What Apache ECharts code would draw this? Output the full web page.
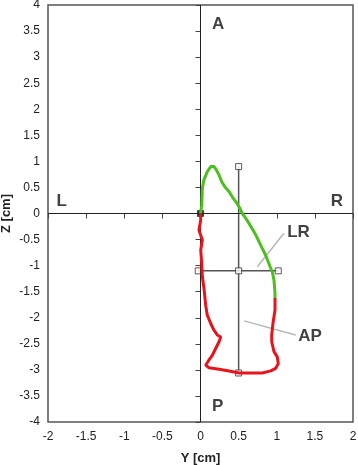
<!DOCTYPE html>
<html>
<head>
<meta charset="utf-8">
<script src="https://cdn.jsdelivr.net/npm/echarts@6/dist/echarts.min.js"></script>
<style>
  html, body { margin: 0; padding: 0; background: #fff; }
  #chart { width: 358px; height: 465px; }
</style>
</head>
<body>
<div id="chart"></div>
<script>
// trajectory, rising part (green) then the rest (red), [Y, Z] in cm
const greenPath = [
  [0, 0], [0.016, 0.16], [0.024, 0.48], [0.046, 0.65], [0.089, 0.80], [0.134, 0.90],
  [0.177, 0.90], [0.207, 0.84], [0.243, 0.74], [0.278, 0.61], [0.321, 0.51], [0.374, 0.42],
  [0.417, 0.32], [0.462, 0.23], [0.505, 0.13], [0.548, 0.00], [0.593, -0.09], [0.636, -0.19],
  [0.702, -0.35], [0.724, -0.41], [0.767, -0.54], [0.810, -0.67], [0.855, -0.80], [0.889, -0.93],
  [0.921, -1.05], [0.942, -1.12], [0.964, -1.28], [0.977, -1.53], [0.977, -1.62]
];
const redPath = [
  [0.977, -1.62], [0.977, -1.85], [0.951, -2.10], [0.934, -2.33], [0.934, -2.46], [0.964, -2.65],
  [1.007, -2.75], [1.020, -2.88], [0.986, -2.97], [0.921, -3.02], [0.810, -3.06], [0.679, -3.06],
  [0.505, -3.06], [0.374, -3.02], [0.243, -2.99], [0.111, -2.96], [0.068, -2.91], [0.111, -2.81],
  [0.155, -2.72], [0.199, -2.59], [0.243, -2.46], [0.265, -2.37], [0.220, -2.33], [0.177, -2.24],
  [0.134, -2.11], [0.089, -1.95], [0.068, -1.76], [0.046, -1.44], [0.024, -1.21], [0.016, -0.96],
  [0.003, -0.70], [0.024, -0.51], [-0.02, -0.32], [0.003, -0.12], [0, 0]
];
// AP and LR extent lines
const apLine = [[0.5, 0.9], [0.5, -1.1], [0.5, -3.06]];
const lrLine = [[-0.03, -1.1], [0.5, -1.1], [1.02, -1.1]];
// leader lines for the LR / AP labels
const lrLeader = [[0.745, -1.02], [1.095, -0.38]];
const apLeader = [[0.570, -2.06], [1.249, -2.33]];
// direction and measure labels
const labels = [
  { name: 'A', value: [0.23, 3.63] }, { name: 'P', value: [0.225, -3.69] },
  { name: 'L', value: [-1.82, 0.24] }, { name: 'R', value: [1.79, 0.24] },
  { name: 'LR', value: [1.285, -0.365] }, { name: 'AP', value: [1.436, -2.365] }
];

const FONT = 'Liberation Sans';
const chart = echarts.init(document.getElementById('chart'));

const lineS = (data, color, width, z) => ({
  type: 'line', data, symbol: 'none', z, silent: true, animation: false,
  lineStyle: { color, width }
});
const squares = (data, fill) => ({
  type: 'scatter', data, symbol: 'rect', symbolSize: 6, z: 4, silent: true,
  itemStyle: { color: fill, borderColor: '#333', borderWidth: 1 }
});

chart.setOption({
  animation: false,
  grid: {
    left: 48, right: 5, top: 5, bottom: 43, containLabel: false, outerBoundsMode: 'none',
    show: true, borderColor: '#555', borderWidth: 1.5
  },
  xAxis: {
    type: 'value', min: -2, max: 2, interval: 0.5,
    name: 'Y [cm]', nameLocation: 'middle', nameGap: 30, nameMoveOverlap: false,
    nameTextStyle: { fontFamily: FONT, fontSize: 13, fontWeight: 'bold', color: '#222' },
    axisLine: { show: false }, splitLine: { show: false },
    axisTick: { show: true, length: 5, lineStyle: { color: '#444' } },
    axisLabel: { margin: 9, fontFamily: FONT, fontSize: 12, color: '#222' }
  },
  yAxis: {
    type: 'value', min: -4, max: 4, interval: 0.5,
    name: 'Z [cm]', nameLocation: 'middle', nameGap: 35, nameMoveOverlap: false,
    nameTextStyle: { fontFamily: FONT, fontSize: 13, fontWeight: 'bold', color: '#222' },
    axisLine: { show: false }, splitLine: { show: false },
    axisTick: { show: true, length: 5, lineStyle: { color: '#444' } },
    axisLabel: { margin: 8, fontFamily: FONT, fontSize: 12, color: '#222' }
  },
  series: [
    {
      type: 'line', data: [], z: 1,
      markLine: {
        silent: true, symbol: 'none', animation: false, label: { show: false },
        lineStyle: { color: '#222', width: 1, type: 'solid' },
        data: [{ xAxis: 0 }, { yAxis: 0 }]
      }
    },
    lineS(lrLeader, '#b8b8b8', 1.5, 2),
    lineS(apLeader, '#b8b8b8', 1.5, 2),
    lineS(apLine, '#555', 1.5, 3),
    lineS(lrLine, '#555', 1.5, 3),
    squares([apLine[0], apLine[1], lrLine[0], lrLine[2]], '#fff'),
    squares([apLine[2]], '#fff'),
    lineS(greenPath, '#4cbf1f', 3, 5),
    lineS(redPath, '#e8141b', 3, 5),
    squares([[0, 0]], '#000'),
    {
      type: 'scatter', data: labels, symbolSize: 0, z: 6, silent: true,
      label: {
        show: true, position: 'inside', formatter: p => p.name,
        fontFamily: FONT, fontSize: 17, fontWeight: 'bold', color: '#111'
      }
    }
  ]
});
</script>
</body>
</html>
